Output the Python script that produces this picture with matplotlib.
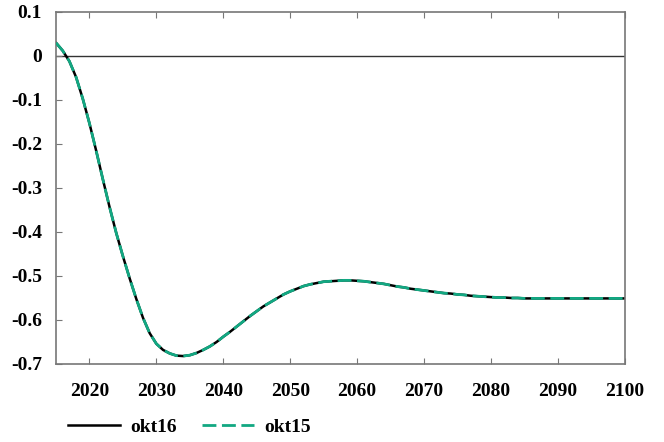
import numpy as np
import matplotlib.pyplot as plt

plt.rcParams['font.family'] = ['Liberation Serif', 'DejaVu Serif']
plt.rcParams['font.weight'] = 'bold'
plt.rcParams['axes.unicode_minus'] = False

years = np.arange(2015, 2101)

okt16 = [0.030, 0.012, -0.012, -0.048, -0.097, -0.153, -0.215, -0.280, -0.343, -0.402,
         -0.455, -0.505, -0.552, -0.595, -0.630, -0.654, -0.668, -0.676, -0.681, -0.682,
         -0.680, -0.675, -0.668, -0.660, -0.650, -0.638, -0.627, -0.615, -0.603, -0.591,
         -0.580, -0.569, -0.560, -0.551, -0.542, -0.535, -0.529, -0.523, -0.519, -0.516,
         -0.513, -0.512, -0.511, -0.510, -0.510, -0.511, -0.512, -0.514, -0.516, -0.518,
         -0.521, -0.524, -0.526, -0.529, -0.531, -0.533, -0.535, -0.537, -0.539, -0.540,
         -0.542, -0.543, -0.545, -0.546, -0.547, -0.548, -0.549, -0.549, -0.550, -0.550,
         -0.551, -0.551, -0.551, -0.551, -0.551, -0.551, -0.551, -0.551, -0.551, -0.551,
         -0.551, -0.551, -0.551, -0.551, -0.551, -0.551]

okt15 = [0.030, 0.012, -0.012, -0.048, -0.097, -0.153, -0.215, -0.280, -0.343, -0.402,
         -0.455, -0.505, -0.552, -0.595, -0.630, -0.654, -0.668, -0.676, -0.681, -0.682,
         -0.680, -0.675, -0.668, -0.660, -0.650, -0.638, -0.627, -0.615, -0.603, -0.591,
         -0.580, -0.569, -0.560, -0.551, -0.542, -0.535, -0.529, -0.523, -0.519, -0.516,
         -0.513, -0.512, -0.511, -0.510, -0.510, -0.511, -0.512, -0.514, -0.516, -0.518,
         -0.521, -0.524, -0.526, -0.529, -0.531, -0.533, -0.535, -0.537, -0.539, -0.540,
         -0.542, -0.543, -0.545, -0.546, -0.547, -0.548, -0.549, -0.549, -0.550, -0.550,
         -0.551, -0.551, -0.551, -0.551, -0.551, -0.551, -0.551, -0.551, -0.551, -0.551,
         -0.551, -0.551, -0.551, -0.551, -0.551, -0.551]

x_ticks = [2020, 2030, 2040, 2050, 2060, 2070, 2080, 2090, 2100]
y_ticks = [0.1, 0, -0.1, -0.2, -0.3, -0.4, -0.5, -0.6, -0.7]
y_labels = ['0.1', '0', '-0.1', '-0.2', '-0.3', '-0.4', '-0.5', '-0.6', '-0.7']

fig = plt.figure(figsize=(6.64, 4.42), dpi=100)
ax = fig.add_axes([0.0843, 0.1765, 0.8567, 0.7965])

ax.axhline(0, color='#333333', lw=1.0, zorder=1)
ax.plot(years, okt16, color='black', lw=1.8, label='okt16', zorder=2)
ax.plot(years, okt15, color='#12a882', lw=2.0, ls=(0, (5, 2)), label='okt15', zorder=3)

ax.set_xlim(2015, 2100)
ax.set_ylim(-0.7, 0.1)
ax.set_xticks(x_ticks)
ax.set_yticks(y_ticks)
ax.set_yticklabels(y_labels)

for s in ax.spines.values():
    s.set_color('#777777')
    s.set_linewidth(1.2)

ax.tick_params(axis='x', direction='in', top=True, bottom=True, length=4,
               color='#777777', labelsize=14, pad=14)
ax.tick_params(axis='y', direction='in', left=True, right=False, length=4,
               color='#777777', labelsize=14, pad=10)

ax.legend(loc='upper left', bbox_to_anchor=(-0.01, -0.105), ncol=2, frameon=False,
          fontsize=14, handlelength=2.7, columnspacing=1.3, handletextpad=0.5)

fig.savefig('out.png', dpi=100)
